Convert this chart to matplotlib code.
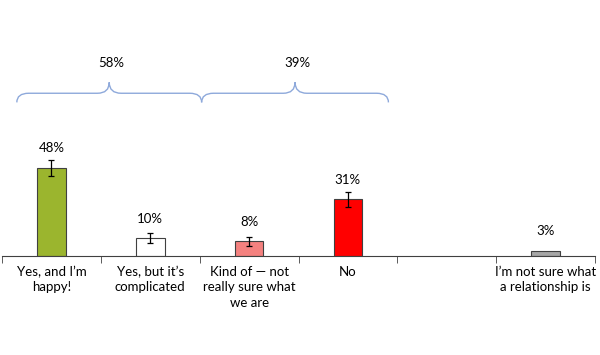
import numpy as np
import matplotlib
matplotlib.use("Agg")
import matplotlib.pyplot as plt
from matplotlib.path import Path
from matplotlib.patches import PathPatch

categories = ["Yes, and I\u2019m\nhappy!", "Yes, but it\u2019s\ncomplicated",
              "Kind of \u2014 not\nreally sure what\nwe are", "No", "",
              "I\u2019m not sure what\na relationship is"]
values = [48, 10, 8, 31, 0, 3]
errors = [4.4, 2.8, 2.5, 4.0, 0, 0]
labels = ["48%", "10%", "8%", "31%", "", "3%"]
colors = ["#9BB52E", "#FFFFFF", "#F4817F", "#FF0000", "#FFFFFF", "#A6A6A6"]

# brace groups: (start, end, label)
groups = [(-0.35, 1.52, "58%"), (1.52, 3.41, "39%")]

plt.rcParams['font.family'] = ['Lato', 'DejaVu Sans']

fig = plt.figure(figsize=(6, 3.55), dpi=100)
ax = fig.add_axes([2 / 600, 99 / 355, 593 / 600, 256 / 355])

x = np.arange(len(categories))
for i, (v, e, c) in enumerate(zip(values, errors, colors)):
    if v == 0:
        continue
    ax.bar(x[i], v, width=0.29, color=c, edgecolor="#404040", linewidth=0.8, zorder=2)
    if e > 0:
        ax.errorbar(x[i], v, yerr=e, color="black", capsize=2, elinewidth=0.9,
                    capthick=0.9, zorder=3)
    ax.text(x[i], v + max(e, 4) + 6.5, labels[i], ha="center", va="center",
            fontsize=9.5)


def brace(ax, x0, x1, y_end, y_flat, y_peak, color):
    xm = (x0 + x1) / 2
    r = 0.12
    verts = [
        (x0, y_end), (x0, y_flat), (x0 + r, y_flat),
        (xm - r, y_flat), (xm, y_flat), (xm, y_peak),
        (xm, y_flat), (xm + r, y_flat),
        (x1 - r, y_flat), (x1, y_flat), (x1, y_end),
    ]
    codes = [Path.MOVETO, Path.CURVE3, Path.CURVE3,
             Path.LINETO, Path.CURVE3, Path.CURVE3,
             Path.CURVE3, Path.CURVE3,
             Path.LINETO, Path.CURVE3, Path.CURVE3]
    ax.add_patch(PathPatch(Path(verts, codes), facecolor="none",
                           edgecolor=color, linewidth=1.0, clip_on=False))
    return xm


for g0, g1, glab in groups:
    xm = brace(ax, g0, g1, 84, 89, 95, "#8EA9DB")
    ax.text(xm + 0.02, 105.5, glab, ha="center", va="center", fontsize=9.5)

ax.set_xlim(-0.5, 5.5)
ax.set_ylim(0, 140)
ax.set_xticks(x)
ax.set_xticklabels(categories, fontsize=9.5, linespacing=1.35, va="top")
ax.tick_params(axis="x", which="major", length=0, pad=7)
ax.set_xticks(np.arange(-0.5, 6, 1), minor=True)
ax.tick_params(axis="x", which="minor", length=5, direction="out", color="#404040")
ax.set_yticks([])
for s in ["top", "left", "right"]:
    ax.spines[s].set_visible(False)
ax.spines["bottom"].set_color("#404040")
ax.patch.set_alpha(0)

fig.savefig("out.png", dpi=100)
